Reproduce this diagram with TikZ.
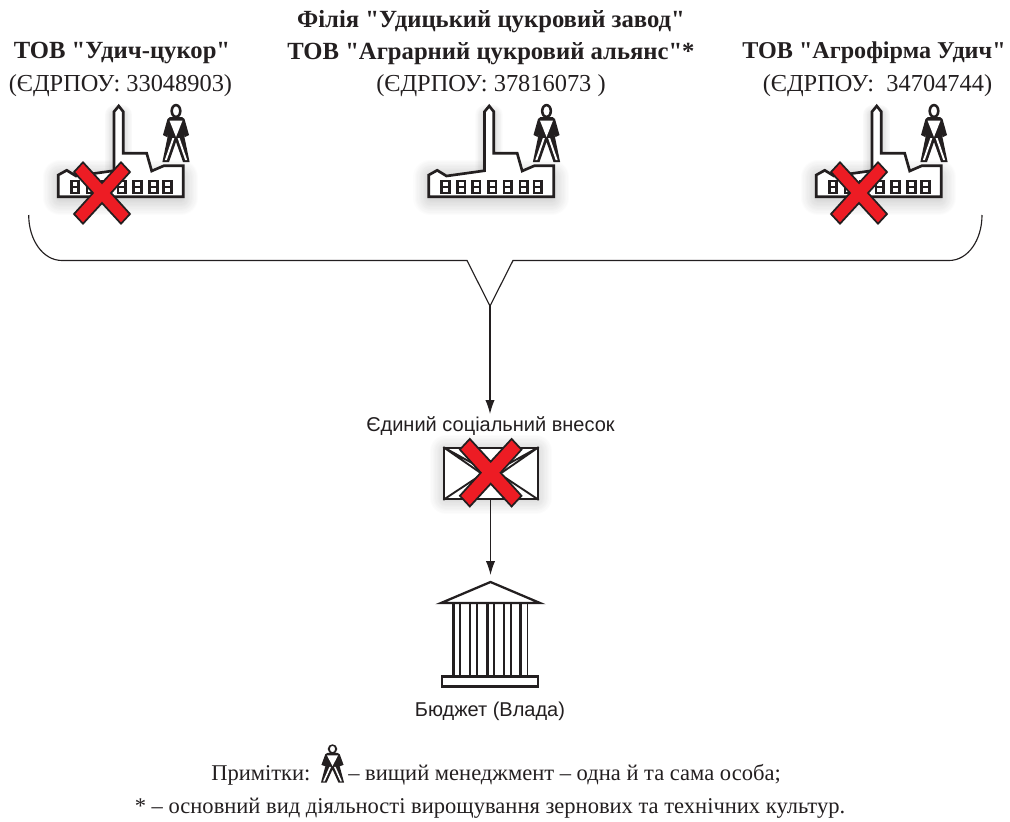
\documentclass[tikz,border=0pt]{standalone}
\usepackage{fontspec}
\newfontfamily\serifn{Liberation Serif}
\newfontfamily\arialf{Liberation Sans}
\usetikzlibrary{arrows.meta,calc}
\definecolor{inkc}{HTML}{231F20}
\definecolor{redx}{HTML}{ED1C24}
\tikzset{
  x=0.75pt,y=-0.75pt,
  thinl/.style={draw=inkc,line width=0.85pt},
  flow/.style={thinl,-{Latex[length=10.5pt,width=7pt]}},
  ttl/.style={font=\serifn\fontsize{18.5}{21}\selectfont\bfseries,text=inkc,inner sep=0,anchor=center,align=center},
  reg/.style={font=\serifn\fontsize{18.3}{21}\selectfont,text=inkc,inner sep=0,anchor=center},
  sans/.style={font=\arialf\fontsize{15}{18}\selectfont,text=inkc,inner sep=0,anchor=center},
  note/.style={font=\serifn\fontsize{16.9}{20}\selectfont,text=inkc,inner sep=0,anchor=center},
  icon/.style={draw=inkc,line width=2pt,line join=miter,fill=white},
  xmark/.style={draw=inkc,line width=1.3pt,fill=redx,line join=miter},
  softshadow/.style={black,opacity=0.012,line join=round},
  pics/personicon/.style={code={
    \fill[inkc,even odd rule]
      (0,0) ellipse (5.6 and 7.2) (0,0) ellipse (3.1 and 4.8);
    \fill[inkc] (-6,6) -- (6,6) -- (8.5,8) -- (13,24) -- (9,26) -- (7.6,22)
       -- (13.6,51) -- (7,51) -- (0,31) -- (-7,51) -- (-13.6,51) -- (-7.6,22) -- (-9,26) -- (-13,24) -- (-8.5,8) -- cycle;
    \fill[white] (-6.5,9.5) -- (6.5,9.5) -- (0,26) -- cycle;
    \fill[white] (-3.6,27) -- (-1.6,27) -- (-9.2,49.2) -- (-11.2,49.2) -- cycle;
    \fill[white] (3.6,27) -- (1.6,27) -- (9.2,49.2) -- (11.2,49.2) -- cycle;
  }},
  pics/factoryicon/.style={code={
    \foreach \w in {2,4,...,26}{
      \draw[softshadow,line width=\w pt] (-60,42) rectangle (61,63);
      \draw[softshadow,line width=0.6*\w pt] (-5,-20) -- (-5,36) -- (2,36) -- (2,-20) -- cycle;
    }
    \filldraw[icon]
      (-61.7,40) -- (-53.3,35.3) -- (-44,41) -- (-6,35.7) -- (-6,-23.3) -- (-1.3,-29) -- (3.3,-23.3)
      -- (3.3,18.3) -- (26.7,18.3) -- (31.7,36) -- (44,30.7) -- (63.3,30.7) -- (63.3,61.7) -- (-61.7,61.7) -- cycle;
    \foreach \cx in {-45,-29.3,-14.3,1.7,17.3,33.3,47.3}{
      \fill[inkc] (\cx-5.2,44.8) rectangle (\cx+5.2,59.2);
      \fill[white] (\cx-2.4,47.2) rectangle (\cx+2.4,50.8);
      \fill[white] (\cx-2.4,53.2) rectangle (\cx+2.4,56.8);
    }
    \path (56,-24) pic {personicon};
  }},
  pics/crossicon/.style={code={
    \filldraw[xmark]
      (-28,-21) -- (-19,-30.7) -- (0,-10) -- (19,-30.7) -- (28,-21) -- (9,0)
      -- (28,21) -- (19,30.7) -- (0,10) -- (-19,30.7) -- (-28,21) -- (-9,0) -- cycle;
  }}
}
\begin{document}
\begin{tikzpicture}
\useasboundingbox (0,0) rectangle (1010,821);
\fill[white] (0,0) rectangle (1010,821);

\node[ttl] (t1) at (122,53) {ТОВ "Удич-цукор"};
\node[reg] (r1) at (120.5,86) {(ЄДРПОУ: 33048903)};
\node[ttl] (t2a) at (491,22) {Філія "Удицький цукровий завод"};
\node[ttl] (t2b) at (491,54) {ТОВ "Аграрний цукровий альянс"*};
\node[reg] (r2) at (491,86) {(ЄДРПОУ: 37816073 )};
\node[ttl,font=\serifn\fontsize{18.1}{21}\selectfont\bfseries] (t3) at (874,53) {ТОВ "Агрофірма Удич"};
\node[reg] (r3) at (877.5,86) {(ЄДРПОУ:\ \ 34704744)};

\path (120,135) pic {factoryicon};
\path (490.5,135) pic {factoryicon};
\path (878,135) pic {factoryicon};
\path (102,193) pic {crossicon};
\path (859,193) pic {crossicon};

\coordinate (brL) at (28.7,215);
\coordinate (brR) at (982,215);
\coordinate (vL) at (467,260.5);
\coordinate (vR) at (513,260.5);
\coordinate (apex) at (490,306);
\draw[thinl,line join=miter] (brL) .. controls (28.7,240) and (43,260.5) .. (62,260.5)
  -- (vL) -- (apex) -- (vR) -- (949,260.5) .. controls (968,260.5) and (982,240) .. (brR);

\node[sans] (esv) at (490.5,426) {Єдиний соціальний внесок};
\coordinate (envTop) at (490,414);
\draw[flow] (apex) -- (envTop);

\foreach \w in {2,4,...,24}{
  \draw[softshadow,line width=\w pt] (446,451) rectangle (536,498);
}
\node[draw=inkc,line width=1.6pt,fill=white,minimum width=70pt,minimum height=38pt,inner sep=0] (env) at (491,473.5) {};
\draw[draw=inkc,line width=1.4pt]
  (env.north west) -- ($(env.center)+(-11,-1)$)
  (env.north east) -- ($(env.center)+(11,-1)$)
  (env.north west) -- (env.center) -- (env.north east)
  (env.south west) -- ($(env.center)+(-11,2)$)
  (env.south east) -- ($(env.center)+(11,2)$);
\path (490.7,472.7) pic[scale=1.1] {crossicon};

\coordinate (bank) at (490.5,575);
\draw[flow] (490.5,499) -- (bank);

\filldraw[draw=inkc,fill=white,line width=1.7pt,line join=miter] (441,603) -- (490.5,582) -- (540,603) -- cycle;
\foreach \cx in {456.7,473.3,490.7,507.3,524}{
  \draw[inkc,line width=2pt] (\cx-3.4,603) -- (\cx-3.4,677);
  \draw[inkc,line width=1.3pt] (\cx+3.4,603) -- (\cx+3.4,677);
}
\draw[draw=inkc,fill=white,line width=1.7pt] (442,676.5) rectangle (538,686.5);

\node[sans] (bud) at (490,711) {Бюджет (Влада)};

\node[note,anchor=west] (n1) at (211,775) {Примітки:};
\path (332.5,749) pic[xscale=0.85,yscale=0.66] {personicon};
\node[note,anchor=west] (n2) at (348,775) {– вищий менеджмент – одна й та сама особа;};
\node[note] (n3) at (490,808) {* – основний вид діяльності вирощування зернових та технічних культур.};
\end{tikzpicture}
\end{document}
